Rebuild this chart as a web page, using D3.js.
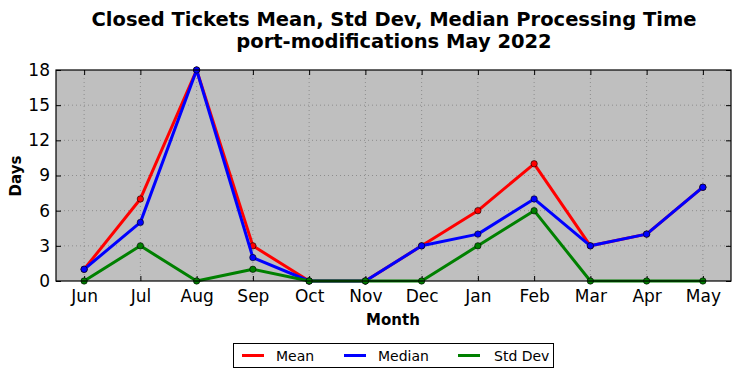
<!DOCTYPE html>
<html><head><meta charset="utf-8">
<script src="https://cdn.jsdelivr.net/npm/d3@7"></script>
<style>
body{margin:0;background:#fff;}
svg{display:block;}
text{font-family:"DejaVu Sans",sans-serif;}
</style></head>
<body>
<svg id="c" width="741" height="378"></svg>
<script>
const months = ["Jun","Jul","Aug","Sep","Oct","Nov","Dec","Jan","Feb","Mar","Apr","May"];
const meanVals = [1,7,18,3,0,0,3,6,10,3,4,8];
const medianVals = [1,5,18,2,0,0,3,4,7,3,4,8];
const stdVals = [0,3,0,1,0,0,0,3,6,0,0,0];
const yTicks = [0,3,6,9,12,15,18];
const seriesNames = ["Mean","Median","Std Dev"];
const seriesColors = ["#ff0000","#0000ff","#008000"];
const seriesData = [meanVals, medianVals, stdVals];

const svg = d3.select("#c");
const L=56, R=731, T=70, B=281;
const x = d3.scalePoint().domain(months).range([L,R]).padding(0.5);
const y = d3.scaleLinear().domain([0,18]).range([B,T]);

svg.append("rect").attr("x",L).attr("y",T).attr("width",R-L).attr("height",B-T).attr("fill","#bfbfbf");

// grid
const g = svg.append("g");
yTicks.forEach(t=>{ if(t>0 && t<18) g.append("line").attr("x1",L).attr("x2",R).attr("y1",y(t)).attr("y2",y(t)).attr("stroke","#808080").attr("stroke-width",0.8).attr("stroke-dasharray","1,3");});
months.forEach(m=>{ g.append("line").attr("x1",x(m)).attr("x2",x(m)).attr("y1",T).attr("y2",B).attr("stroke","#808080").attr("stroke-width",0.8).attr("stroke-dasharray","1,3");});

// axes
const xa = svg.append("g").attr("transform",`translate(0,${B})`).call(d3.axisBottom(x).tickSizeInner(-5).tickSizeOuter(0).tickPadding(9));
const xt = svg.append("g").attr("transform",`translate(0,${T})`).call(d3.axisTop(x).tickSizeInner(-5).tickSizeOuter(0).tickFormat(""));
const ya = svg.append("g").attr("transform",`translate(${L},0)`).call(d3.axisLeft(y).tickValues(yTicks).tickSizeInner(-5).tickSizeOuter(0).tickPadding(6));
const yr = svg.append("g").attr("transform",`translate(${R},0)`).call(d3.axisRight(y).tickValues(yTicks).tickSizeInner(-5).tickSizeOuter(0).tickFormat(""));
[xa,xt,ya,yr].forEach(a=>{a.select(".domain").remove(); a.selectAll("line").attr("stroke","#000"); a.selectAll("text").attr("fill","#000").style("font-family","'DejaVu Sans',sans-serif").style("font-size","17px");});

// lines
const line = d3.line().x((d,i)=>x(months[i])).y(d=>y(d));
seriesData.forEach((vals,k)=>{
  svg.append("path").datum(vals).attr("d",line).attr("fill","none").attr("stroke",seriesColors[k]).attr("stroke-width",3).attr("stroke-linejoin","round");
  svg.selectAll(null).data(vals).enter().append("circle").attr("cx",(d,i)=>x(months[i])).attr("cy",d=>y(d)).attr("r",3.2).attr("fill",seriesColors[k]).attr("stroke","#000").attr("stroke-width",0.6);
});

svg.append("rect").attr("x",L).attr("y",T).attr("width",R-L).attr("height",B-T).attr("fill","none").attr("stroke","#000").attr("stroke-width",1.2);

// titles
svg.append("text").attr("x",394).attr("y",26).attr("text-anchor","middle").attr("font-weight","bold").attr("font-size","19.5px").text("Closed Tickets Mean, Std Dev, Median Processing Time");
svg.append("text").attr("x",394).attr("y",48).attr("text-anchor","middle").attr("font-weight","bold").attr("font-size","19.5px").text("port-modifications May 2022");
svg.append("text").attr("x",393).attr("y",325).attr("text-anchor","middle").attr("font-weight","bold").attr("font-size","15px").text("Month");
svg.append("text").attr("transform","translate(21,176) rotate(-90)").attr("text-anchor","middle").attr("font-weight","bold").attr("font-size","15px").text("Days");

// legend
svg.append("rect").attr("x",233.5).attr("y",343.5).attr("width",320).attr("height",24).attr("fill","#fff").attr("stroke","#000").attr("stroke-width",1);
const lx=[242,344,458], tx=[276,378,494];
seriesNames.forEach((n,k)=>{
  svg.append("line").attr("x1",lx[k]).attr("x2",lx[k]+22).attr("y1",355.5).attr("y2",355.5).attr("stroke",seriesColors[k]).attr("stroke-width",3);
  svg.append("text").attr("x",tx[k]).attr("y",360.5).attr("font-size","14px").text(n);
});
</script>
</body></html>
